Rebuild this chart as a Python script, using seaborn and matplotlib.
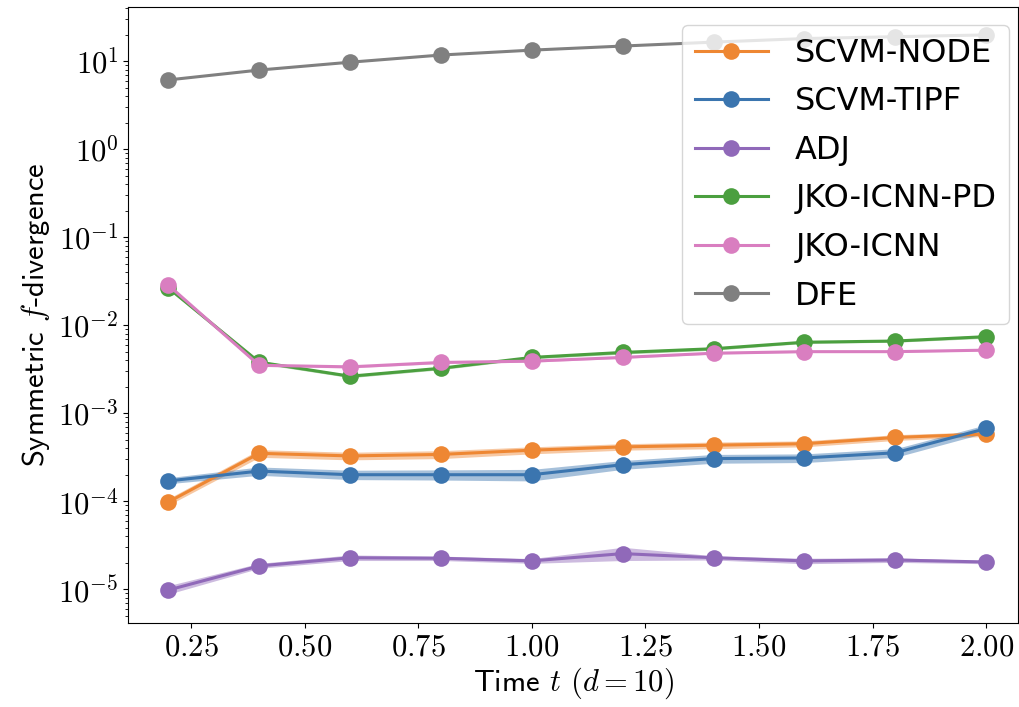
import numpy as np
import pandas as pd
import matplotlib
matplotlib.use("Agg")
import matplotlib.pyplot as plt
from matplotlib.ticker import FuncFormatter, LogLocator, NullFormatter, MultipleLocator
import seaborn as sns

plt.rcParams['mathtext.fontset'] = 'cm'

times = [0.2, 0.4, 0.6, 0.8, 1.0, 1.2, 1.4, 1.6, 1.8, 2.0]
methods = ["SCVM-NODE", "SCVM-TIPF", "ADJ", "JKO-ICNN-PD", "JKO-ICNN", "DFE"]
colors = ["#ee8733", "#3b75af", "#9069b9", "#4b9f3f", "#d97ec0", "#808080"]

# mean curves
scvm_node = [9.8e-5, 3.5e-4, 3.27e-4, 3.4e-4, 3.8e-4, 4.14e-4, 4.33e-4, 4.5e-4, 5.3e-4, 5.8e-4]
scvm_tipf = [1.7e-4, 2.2e-4, 2.0e-4, 2.0e-4, 2.0e-4, 2.6e-4, 3.05e-4, 3.1e-4, 3.55e-4, 6.7e-4]
adj = [9.8e-6, 1.84e-5, 2.28e-5, 2.25e-5, 2.1e-5, 2.54e-5, 2.28e-5, 2.1e-5, 2.15e-5, 2.04e-5]
jko_pd = [0.0265, 0.0038, 0.00263, 0.00324, 0.0043, 0.0049, 0.0054, 0.0064, 0.0066, 0.0074]
jko = [0.0285, 0.0035, 0.00336, 0.00377, 0.0039, 0.0043, 0.0048, 0.0050, 0.0050, 0.0052]
dfe = [6.1, 7.9, 9.7, 11.7, 13.3, 14.8, 16.4, 18.0, 18.9, 19.8]

# shaded bands
scvm_node_lo = [9.0e-5, 3.15e-4, 2.95e-4, 3.05e-4, 3.45e-4, 3.8e-4, 3.95e-4, 4.15e-4, 4.9e-4, 5.45e-4]
scvm_node_hi = [1.07e-4, 3.85e-4, 3.6e-4, 3.75e-4, 4.15e-4, 4.5e-4, 4.7e-4, 4.85e-4, 5.7e-4, 6.15e-4]
scvm_tipf_lo = [1.58e-4, 1.97e-4, 1.76e-4, 1.74e-4, 1.7e-4, 2.3e-4, 2.7e-4, 2.75e-4, 3.15e-4, 6.0e-4]
scvm_tipf_hi = [1.85e-4, 2.45e-4, 2.25e-4, 2.27e-4, 2.3e-4, 2.9e-4, 3.4e-4, 3.45e-4, 3.95e-4, 7.4e-4]
adj_lo = [8.8e-6, 1.73e-5, 2.12e-5, 2.12e-5, 1.97e-5, 2.12e-5, 2.15e-5, 1.95e-5, 2.02e-5, 1.95e-5]
adj_hi = [1.1e-5, 1.97e-5, 2.45e-5, 2.38e-5, 2.23e-5, 3.0e-5, 2.4e-5, 2.25e-5, 2.28e-5, 2.12e-5]
jko_pd_lo = [0.0255, 0.00365, 0.00253, 0.00312, 0.00415, 0.0047, 0.0052, 0.0062, 0.0064, 0.0071]
jko_pd_hi = [0.0275, 0.00395, 0.00273, 0.00336, 0.00445, 0.0051, 0.0056, 0.0066, 0.0068, 0.0077]
jko_lo = [0.0275, 0.0034, 0.00326, 0.00366, 0.0038, 0.0042, 0.0047, 0.0049, 0.0049, 0.0051]
jko_hi = [0.0295, 0.0036, 0.00346, 0.00388, 0.0040, 0.0044, 0.0049, 0.0051, 0.0051, 0.0053]

means = [scvm_node, scvm_tipf, adj, jko_pd, jko, dfe]
bands = [(scvm_node_lo, scvm_node_hi), (scvm_tipf_lo, scvm_tipf_hi), (adj_lo, adj_hi),
         (jko_pd_lo, jko_pd_hi), (jko_lo, jko_hi), (None, None)]

df = pd.DataFrame({
    "t": times * len(methods),
    "value": sum(means, []),
    "method": [m for m in methods for _ in times],
})

fig = plt.figure(figsize=(10.2, 7.07), dpi=100)
ax = fig.add_axes([128.3 / 1020, 1 - 622.7 / 707, (1018 - 128.3) / 1020, (622.7 - 7) / 707])

for (lo, hi), c in zip(bands, colors):
    if lo is not None:
        ax.fill_between(times, lo, hi, color=c, alpha=0.45, lw=0)

sns.lineplot(data=df, x="t", y="value", hue="method", hue_order=methods,
             palette=colors, marker="o", markersize=12, markeredgewidth=0,
             linewidth=2.2, errorbar=None, ax=ax)

ax.set_yscale("log")
ax.set_xlim(0.112, 2.07)
ax.set_ylim(4.17e-6, 41.1)
ax.yaxis.set_major_locator(LogLocator(base=10, numticks=20))
ax.yaxis.set_minor_locator(LogLocator(base=10, subs=np.arange(2, 10), numticks=20))
ax.yaxis.set_major_formatter(FuncFormatter(lambda v, p: r"$10^{%d}$" % round(np.log10(v))))
ax.yaxis.set_minor_formatter(NullFormatter())
ax.xaxis.set_major_locator(MultipleLocator(0.25))
ax.xaxis.set_major_formatter(FuncFormatter(lambda v, p: r"$%.2f$" % v))
ax.tick_params(labelsize=22)

ax.set_xlabel(r"Time $t$ $(d=10)$", fontsize=22, fontfamily="cmss10", labelpad=3)
ax.set_ylabel(r"Symmetric $f$-divergence", fontsize=22, fontfamily="cmss10")

handles, labels = ax.get_legend_handles_labels()
ax.legend(handles, labels, loc="upper right", fontsize=23, handlelength=2.3,
          handletextpad=0.85, labelspacing=0.55, borderaxespad=0,
          bbox_to_anchor=(1009 / 1020, 1 - 25 / 707), bbox_transform=fig.transFigure)

fig.savefig("out.png", dpi=100)
